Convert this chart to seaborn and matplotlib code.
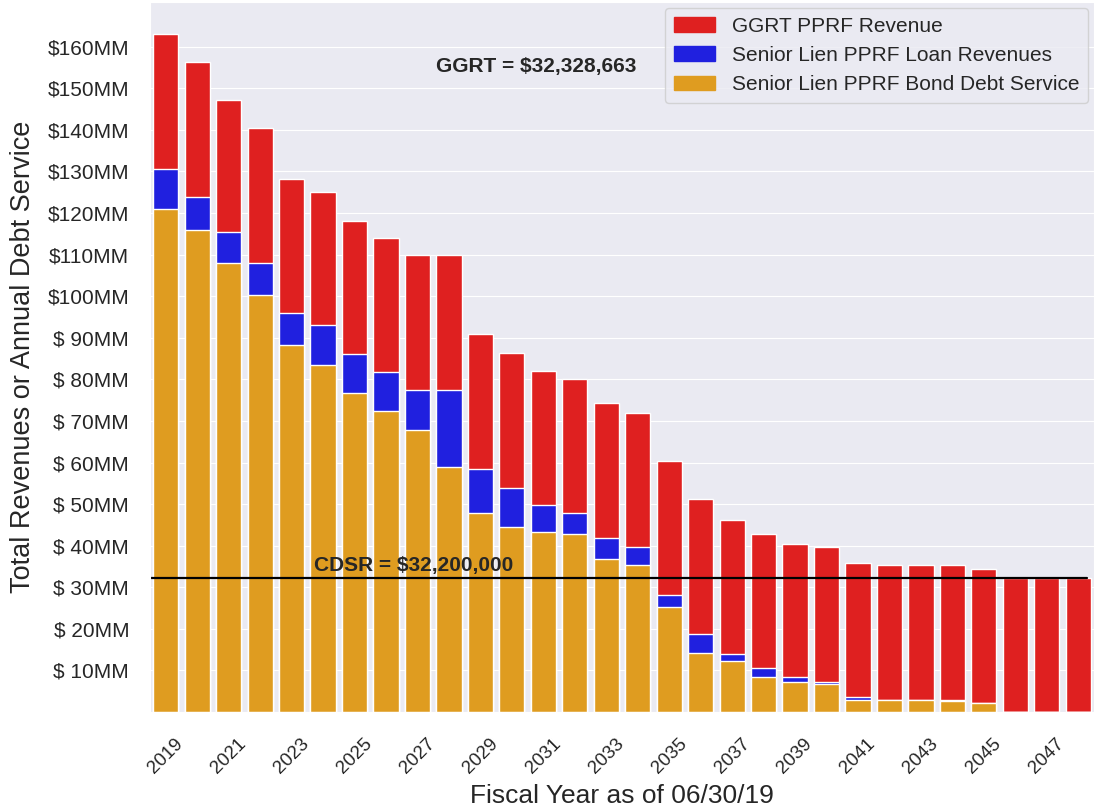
import matplotlib
matplotlib.use('Agg')
import matplotlib.pyplot as plt
import matplotlib.patches as mpatches
from matplotlib.ticker import FuncFormatter
import seaborn as sns

# values in $MM
years = [str(y) for y in range(2019, 2049)]
ggrt_total = [163.1, 156.3, 147.3, 140.4, 128.3, 125.1, 118.2, 114.0, 109.8, 109.8,
              90.9, 86.3, 82.1, 80.2, 74.2, 71.9, 60.4, 51.2, 46.1, 42.8,
              40.5, 39.6, 35.8, 35.4, 35.4, 35.4, 34.5, 32.33, 32.33, 32.33]
loan_rev = [130.6, 123.8, 115.4, 108.0, 96.0, 93.0, 86.1, 81.7, 77.4, 77.4,
            58.5, 53.9, 49.7, 47.9, 41.9, 39.6, 28.1, 18.8, 14.0, 10.5,
            8.5, 7.2, 3.6, 3.0, 3.0, 2.96, 2.1, 0.0, 0.0, 0.0]
bond_ds = [120.9, 115.9, 108.0, 100.2, 88.2, 83.5, 76.7, 72.4, 67.7, 59.0,
           47.9, 44.6, 43.2, 42.7, 36.8, 35.4, 25.2, 14.1, 12.3, 8.5,
           7.1, 6.7, 3.0, 3.0, 3.0, 2.6, 2.1, 0.0, 0.0, 0.0]
CDSR = 32.2
ggrt_label = 'GGRT = $32,328,663'
cdsr_label = 'CDSR = $32,200,000'
legend_labels = ['GGRT PPRF Revenue', 'Senior Lien PPRF Loan Revenues',
                 'Senior Lien PPRF Bond Debt Service']
colors = ['red', 'blue', 'orange']

sns.set_style('darkgrid')
plt.rcParams['font.family'] = ['Liberation Sans', 'DejaVu Sans']

fig = plt.figure(figsize=(10.94, 8.08), dpi=100)
ax = fig.add_axes([150 / 1094, 96 / 808, 944 / 1094, 710 / 808])

sns.barplot(x=years, y=ggrt_total, color=colors[0], ax=ax)
sns.barplot(x=years, y=loan_rev, color=colors[1], ax=ax)
sns.barplot(x=years, y=bond_ds, color=colors[2], ax=ax)

ax.axhline(CDSR, xmax=0.993, color='black', lw=1.6)
ax.text(4.7, CDSR + 1.6, cdsr_label, fontsize=15, fontweight='bold')
ax.text(8.6, 153.9, ggrt_label, fontsize=15, fontweight='bold')

ax.set_ylim(0, 170.75)
ax.set_xlim(-0.5, 29.5)
ax.set_yticks(range(10, 170, 10))
ax.yaxis.set_major_formatter(FuncFormatter(lambda v, p: '${:3.0f}MM'.format(v)))
ax.set_xticks(range(0, 30, 2))
ax.set_xticklabels(years[::2], rotation=45, ha='center')
ax.tick_params(axis='y', labelsize=15, pad=11.5)
ax.tick_params(axis='x', labelsize=13.5, pad=13)

ax.set_xlabel('Fiscal Year as of 06/30/19', fontsize=19, labelpad=5)
ax.set_ylabel('Total Revenues or Annual Debt Service', fontsize=19.5, labelpad=8)

handles = [mpatches.Patch(color=sns.desaturate(c, 0.75), label=l)
           for c, l in zip(colors, legend_labels)]
ax.legend(handles=handles, loc='upper right', fontsize=15, borderaxespad=0.3)

fig.savefig('out.png', dpi=100)
